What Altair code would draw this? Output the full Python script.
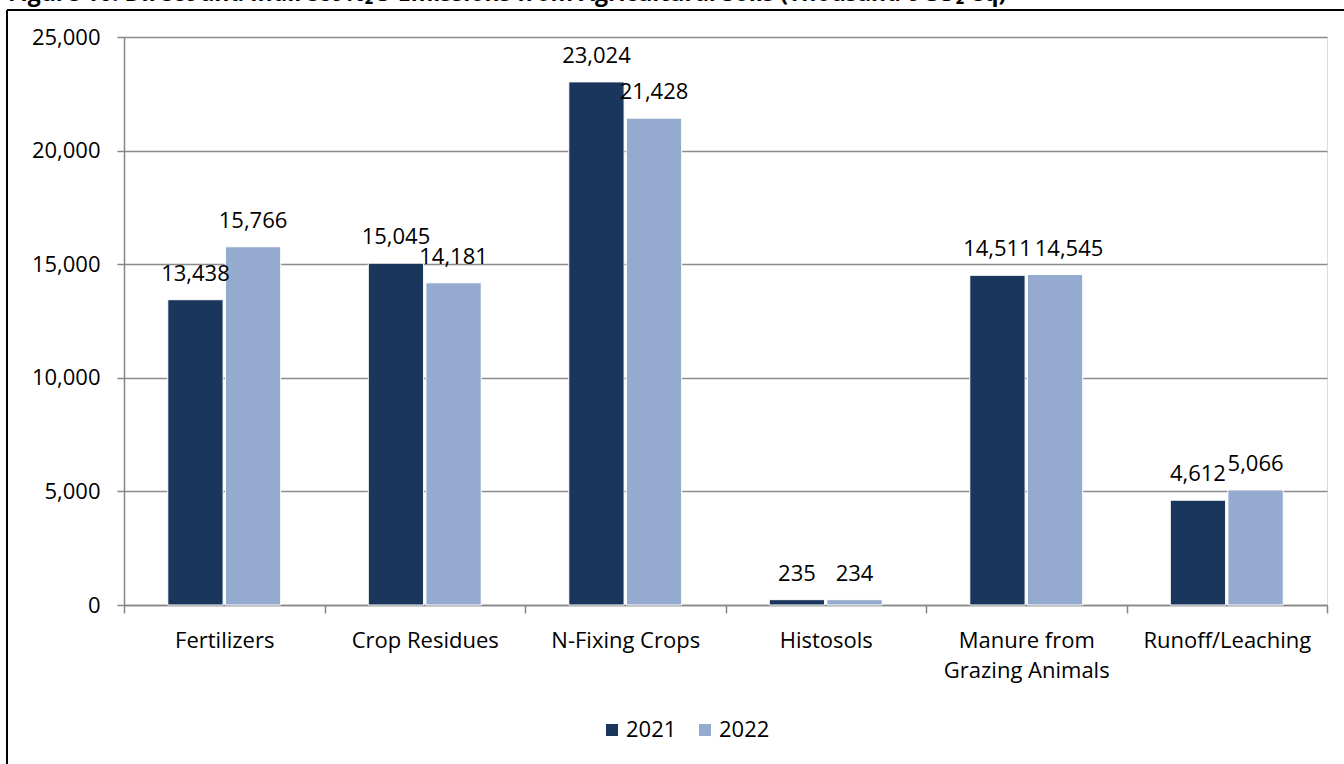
import altair as alt
import pandas as pd

categories = ["Fertilizers", "Crop Residues", "N-Fixing Crops", "Histosols",
              "Manure from|Grazing Animals", "Runoff/Leaching"]
years = ["2021", "2022"]
values_2021 = [13438, 15045, 23024, 235, 14511, 4612]
values_2022 = [15766, 14181, 21428, 234, 14545, 5066]
y_ticks = [0, 5000, 10000, 15000, 20000, 25000]
title_text = "Figure 10: Direct and Indirect N\u2082O Emissions from Agricultural Soils (Thousand t CO\u2082 eq)"

rows = []
for c, a, b in zip(categories, values_2021, values_2022):
    rows.append({"category": c, "year": "2021", "value": a})
    rows.append({"category": c, "year": "2022", "value": b})
df = pd.DataFrame(rows)

FONT = "Open Sans"
AXIS_GREY = "#868686"

x_enc = alt.X(
    "category:N", sort=categories,
    scale=alt.Scale(paddingInner=0, paddingOuter=0),
    axis=alt.Axis(title=None, labelAngle=0, labelExpr="split(datum.label, '|')",
                  labelFontSize=22, labelFont=FONT, labelColor="black",
                  labelPadding=17, labelLineHeight=30, labelBaseline="top",
                  tickBand="extent", tickSize=8, tickColor=AXIS_GREY, tickWidth=1.5,
                  domainColor=AXIS_GREY, domainWidth=1.5, grid=False),
)
xoff_enc = alt.XOffset("year:N", sort=years,
                       scale=alt.Scale(paddingInner=0.04, paddingOuter=0.76))
y_enc = alt.Y(
    "value:Q", scale=alt.Scale(domain=[0, 25000]),
    axis=alt.Axis(title=None, values=y_ticks, format=",.0f",
                  labelFontSize=22, labelFont=FONT, labelColor="black",
                  tickSize=7, tickColor=AXIS_GREY, tickWidth=1.5, labelPadding=17,
                  domainColor=AXIS_GREY, domainWidth=1.5,
                  grid=True, gridColor="#8c8c8c", gridWidth=1.3),
)
color_enc = alt.Color(
    "year:N",
    scale=alt.Scale(domain=years, range=["#1b365d", "#95aacf"]),
    legend=alt.Legend(title=None, orient="none", direction="horizontal",
                      legendX=477, legendY=682, padding=0,
                      symbolType="square", symbolSize=144, symbolStrokeWidth=0,
                      labelFontSize=22, labelFont=FONT, labelColor="black",
                      columnPadding=17, labelOffset=3),
)

base = alt.Chart(df)
bars = base.mark_bar(stroke="white", strokeWidth=1).encode(
    x=x_enc, xOffset=xoff_enc, y=y_enc, color=color_enc)

is_nudged = "datum.category == 'Manure from|Grazing Animals' && datum.year == '2022'"
labels = base.transform_filter("!(" + is_nudged + ")").mark_text(
    dy=-19, baseline="alphabetic", fontSize=22, font=FONT, color="black").encode(
    x=x_enc, xOffset=xoff_enc, y=y_enc, text=alt.Text("value:Q", format=",.0f"))
labels_nudged = base.transform_filter(is_nudged).mark_text(
    dy=-19, dx=14, baseline="alphabetic", fontSize=22, font=FONT, color="black").encode(
    x=x_enc, xOffset=xoff_enc, y=y_enc, text=alt.Text("value:Q", format=",.0f"))

deco = alt.Chart(pd.DataFrame({"t": [title_text]}))
frame_left = deco.mark_rule(color="black", strokeWidth=2).encode(
    x=alt.value(-117), y=alt.value(-27), y2=alt.value(760))
frame_top = deco.mark_rule(color="black", strokeWidth=2).encode(
    x=alt.value(-117), x2=alt.value(1240), y=alt.value(-27))
title = deco.mark_text(align="left", baseline="alphabetic", fontSize=23,
                       font=FONT, fontWeight="bold", color="black").encode(
    x=alt.value(-116), y=alt.value(-36.5), text="t:N")

chart = alt.layer(bars, labels, labels_nudged, frame_left, frame_top, title).properties(
    width=1203, height=568,
    autosize=alt.AutoSizeParams(type="none"),
    padding={"left": 124, "top": 37, "right": 17, "bottom": 159},
).configure_view(stroke="transparent").configure(background="white")

chart.save("out.html", embed_options={"renderer": "svg", "actions": False})
